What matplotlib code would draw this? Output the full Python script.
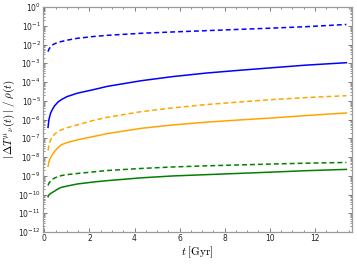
import numpy as np
import matplotlib
matplotlib.use("Agg")
import matplotlib.pyplot as plt
from matplotlib.ticker import LogLocator, MultipleLocator, LogFormatterMathtext, NullFormatter

# time in Gyr
t = [0.16, 0.2, 0.27, 0.35, 0.45, 0.6, 0.75, 1.0, 1.45, 2.2, 2.8, 4.3, 5.7, 7.2, 8.7, 10.2, 11.6, 13.4]

# log10 of |dT| / rho
blue_dashed_log = [-2.38, -2.25, -2.13, -2.03, -1.96, -1.89, -1.84, -1.77, -1.67, -1.57, -1.51, -1.40, -1.33, -1.26, -1.19, -1.12, -1.05, -0.93]
blue_solid_log = [-6.42, -6.00, -5.67, -5.47, -5.27, -5.07, -4.94, -4.78, -4.60, -4.40, -4.23, -3.93, -3.71, -3.52, -3.37, -3.23, -3.10, -2.97]
orange_dashed_log = [-7.65, -7.35, -7.10, -6.92, -6.78, -6.65, -6.55, -6.44, -6.29, -6.04, -5.88, -5.58, -5.38, -5.20, -5.06, -4.93, -4.83, -4.73]
orange_solid_log = [-8.50, -8.25, -8.05, -7.88, -7.70, -7.50, -7.35, -7.23, -7.09, -6.90, -6.75, -6.47, -6.29, -6.14, -6.02, -5.91, -5.79, -5.65]
green_dashed_log = [-9.52, -9.40, -9.28, -9.19, -9.12, -9.05, -8.99, -8.94, -8.88, -8.79, -8.72, -8.61, -8.53, -8.47, -8.42, -8.37, -8.33, -8.29]
green_solid_log = [-10.12, -10.02, -9.95, -9.89, -9.82, -9.70, -9.62, -9.55, -9.44, -9.33, -9.26, -9.11, -9.01, -8.94, -8.87, -8.80, -8.73, -8.66]

plt.rcParams['mathtext.fontset'] = 'dejavusans'

fig = plt.figure(figsize=(3.57, 2.65), dpi=100)
ax = fig.add_axes([0.120, 0.1245, 0.866, 0.849])

series = [
    (blue_dashed_log, '#0000ff', (0, (3.2, 2.0))),
    (blue_solid_log, '#0000ff', '-'),
    (orange_dashed_log, '#ffa500', (0, (3.2, 2.0))),
    (orange_solid_log, '#ffa500', '-'),
    (green_dashed_log, '#008000', (0, (3.2, 2.0))),
    (green_solid_log, '#008000', '-'),
]
for vals, c, ls in series:
    ax.plot(t, 10.0 ** np.array(vals), color=c, ls=ls, lw=1.1)

ax.set_yscale('log')
ax.set_ylim(1e-12, 1e0)
ax.set_xlim(-0.07, 13.65)

ax.yaxis.set_major_locator(LogLocator(base=10, numticks=20))
ax.yaxis.set_minor_locator(LogLocator(base=10, subs=np.arange(2, 10), numticks=20))
ax.yaxis.set_major_formatter(LogFormatterMathtext())
ax.yaxis.set_minor_formatter(NullFormatter())
ax.xaxis.set_major_locator(MultipleLocator(2))
ax.xaxis.set_minor_locator(MultipleLocator(0.5))

frame = '#9a9a9a'
for s in ax.spines.values():
    s.set_color(frame)
    s.set_linewidth(0.9)
ax.tick_params(which='both', direction='in', top=True, right=True, color='#666666',
               labelsize=5.5, labelcolor='#222222', pad=1.5)
ax.tick_params(which='major', length=3, width=0.6)
ax.tick_params(which='minor', length=1.6, width=0.5)

ax.set_xlabel(r'$t\;[\mathrm{Gyr}]$', fontsize=8, math_fontfamily='cm', labelpad=1)
ax.set_ylabel(r'$|\,\Delta T^{\mu}{}_{\nu}(t)\,|\;/\;\rho(t)$', fontsize=8, math_fontfamily='cm', labelpad=1)

fig.savefig('out.png', dpi=100)
